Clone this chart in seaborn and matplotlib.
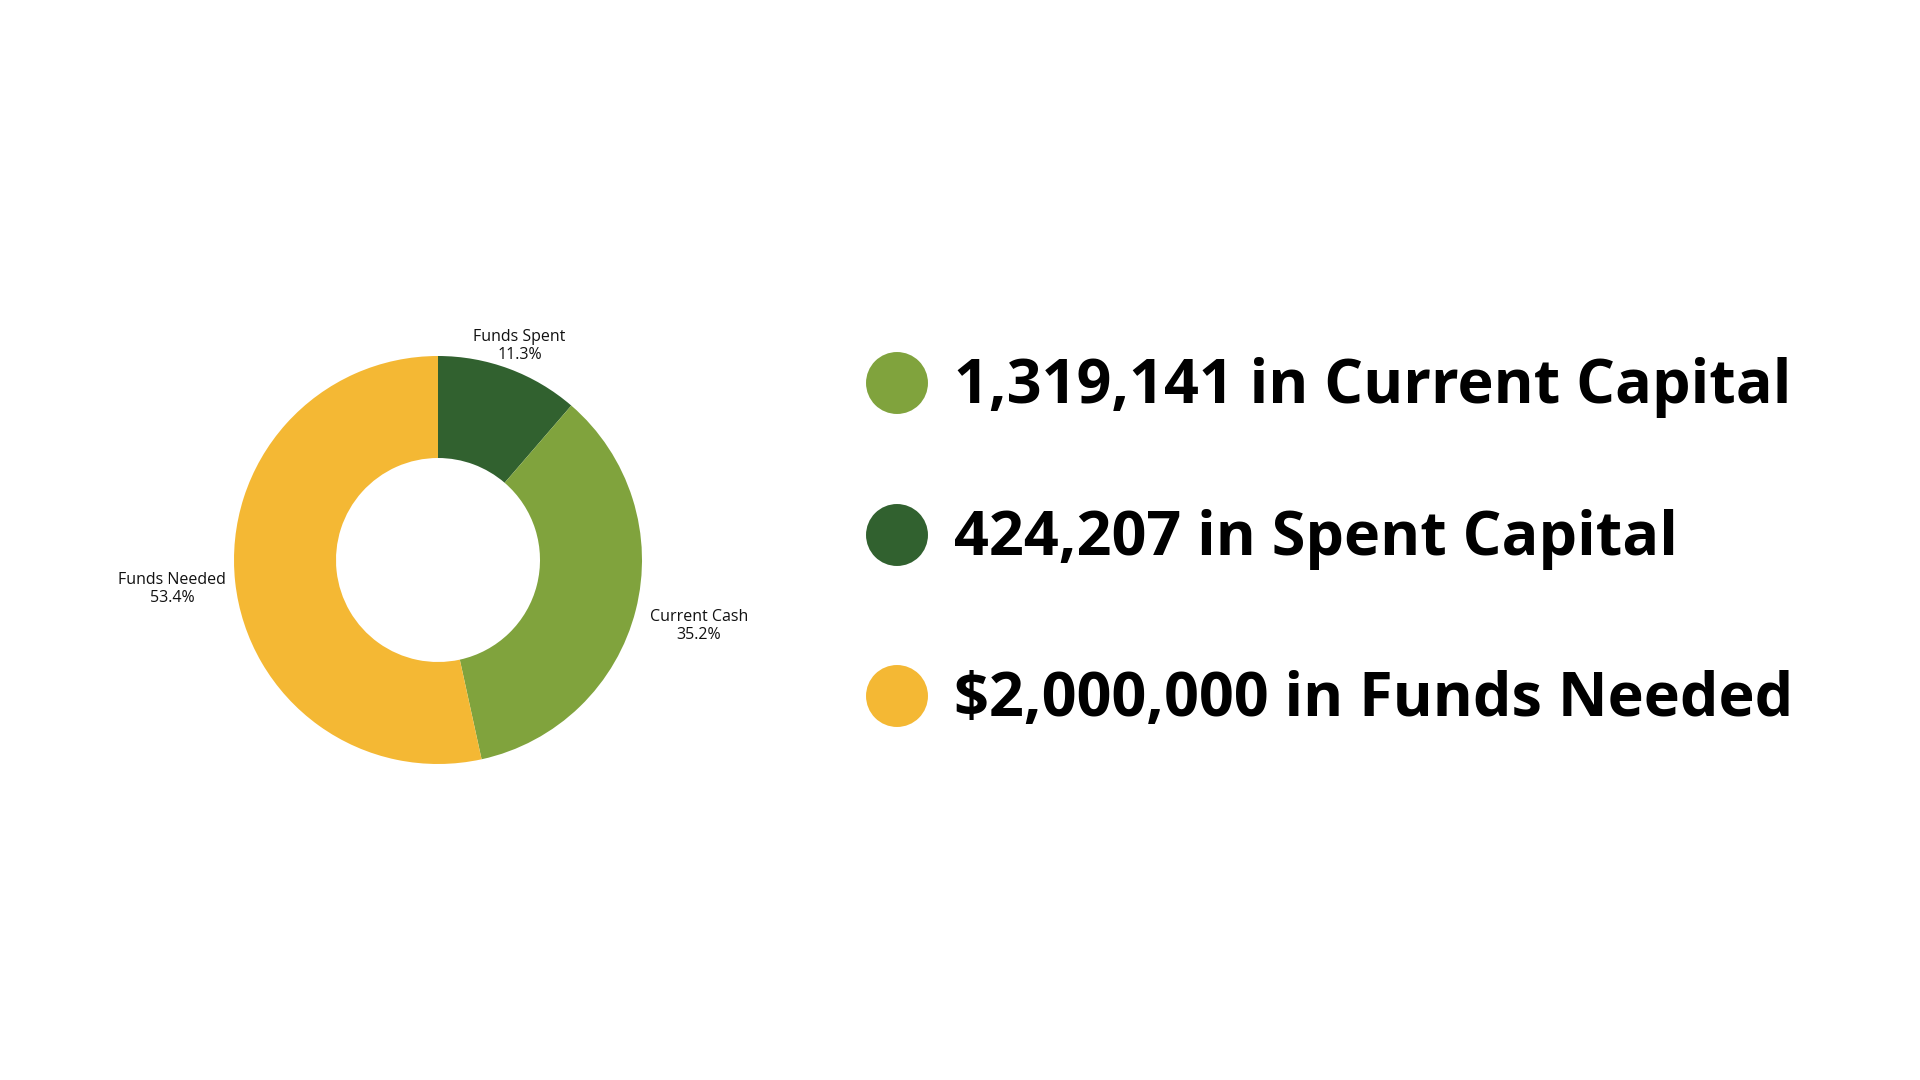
import numpy as np
import matplotlib
matplotlib.use("Agg")
import matplotlib.pyplot as plt
import seaborn as sns

# data
categories = ["Funds Spent", "Current Cash", "Funds Needed"]
amounts = [424207, 1319141, 2000000]
colors = ["#31612F", "#80A33D", "#F4B834"]

legend_lines = ["1,319,141 in Current Capital",
                "424,207 in Spent Capital",
                "$2,000,000 in Funds Needed"]
legend_colors = ["#80A33D", "#31612F", "#F4B834"]

sns.set_theme(style="white")
plt.rcParams["font.family"] = ["Open Sans", "DejaVu Sans"]

fig = plt.figure(figsize=(19.2, 10.8), dpi=100)
fig.patch.set_facecolor("white")

# donut
ax = fig.add_axes([(438 - 204) / 1920, (520 - 204) / 1080, 408 / 1920, 408 / 1080])
wedges, _ = ax.pie(amounts, colors=colors, startangle=90, counterclock=False,
                   radius=1, wedgeprops=dict(width=0.5, linewidth=0))
ax.set_xlim(-1, 1)
ax.set_ylim(-1, 1)
ax.set_aspect("equal")
ax.axis("off")

total = sum(amounts)
label_dist = [1.12, 1.31, 1.32]
for w, name, val, d in zip(wedges, categories, amounts, label_dist):
    mid = np.deg2rad((w.theta1 + w.theta2) / 2)
    ax.text(d * np.cos(mid) + 0.01, d * np.sin(mid), f"{name}\n{val / total * 100:.1f}%",
            ha="center", va="center", fontsize=11.5, color="#111111",
            linespacing=1.15)

# legend-like text on the right
lax = fig.add_axes([0, 0, 1, 1])
lax.set_xlim(0, 1920)
lax.set_ylim(1080, 0)
lax.axis("off")
ys = [383, 535, 696]
sns.scatterplot(x=[897] * 3, y=ys, hue=legend_lines, palette=legend_colors,
                s=1990, linewidth=0, legend=False, ax=lax)
for y, t in zip(ys, legend_lines):
    lax.text(954, y + 5, t, ha="left", va="center", fontsize=44,
             fontweight="bold", color="black")

fig.savefig("out.png", dpi=100, facecolor="white")
